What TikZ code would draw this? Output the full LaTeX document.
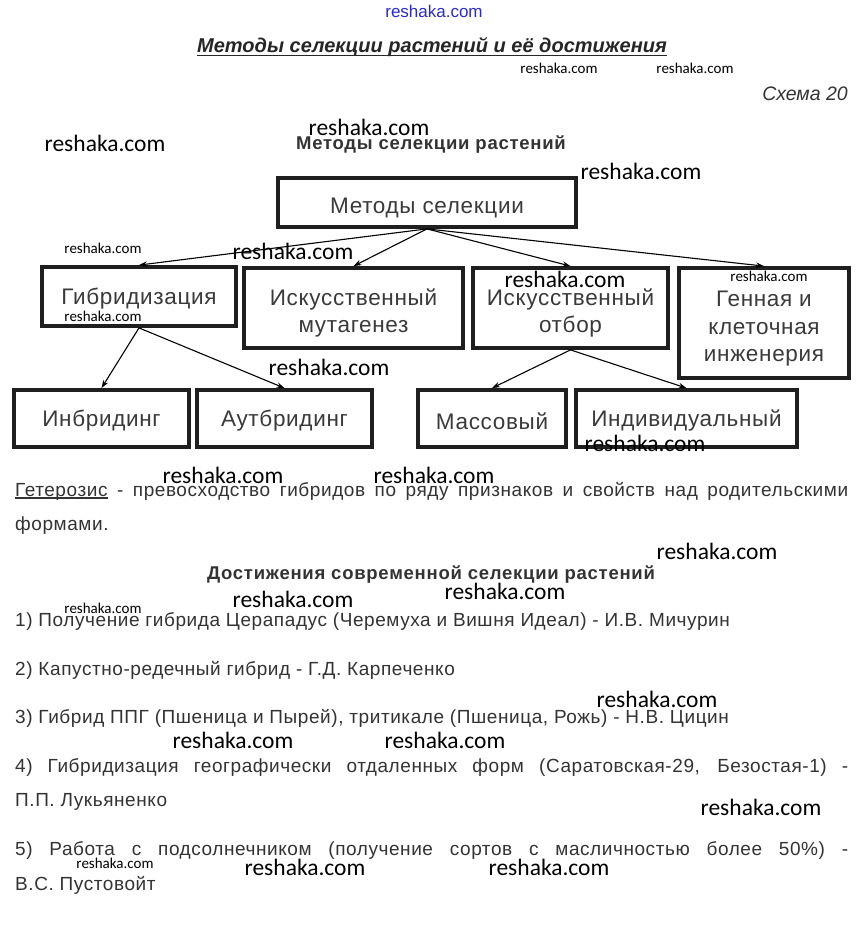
\documentclass[tikz,border=0pt]{standalone}
\usepackage{fontspec}
\setmainfont{Liberation Sans}
\newfontfamily\wmfont{Carlito}
\newfontfamily\spfont[LetterSpace=3]{Liberation Sans}
\newfontfamily\spbfont[LetterSpace=4,BoldFont={Liberation Sans Bold}]{Liberation Sans}
\usetikzlibrary{arrows.meta}
\definecolor{txt}{HTML}{333333}
\definecolor{boxtxt}{HTML}{3A3A3A}
\definecolor{wmblue}{HTML}{2A2AD8}
\newcommand\myul[1]{\setbox0\hbox{#1}\rlap{\rule[-2.5pt]{\wd0}{1.1pt}}\box0\relax}
\newcommand\tallstrut{\rule{0pt}{27pt}}
\tikzset{
  box/.style={draw=black!88, line width=3.8pt, inner sep=0pt, align=center, text=boxtxt,
    font=\spfont\fontsize{22.5}{27.5}\selectfont, execute at begin node={\rule{0pt}{21.5pt}}},
  arr/.style={draw=black, line width=1.1pt, -{Stealth[length=8pt,width=5.5pt]}},
  wmbig/.style={inner sep=0pt, font=\wmfont\fontsize{23.5}{26}\selectfont, text=black},
  wmsmall/.style={inner sep=0pt, font=\wmfont\fontsize{15}{17}\selectfont, text=black},
  body/.style={inner sep=0pt, anchor=base west, text=txt, font=\spfont\fontsize{19}{22}\selectfont},
  head/.style={inner sep=0pt, text=txt, font=\spbfont\bfseries\fontsize{18.5}{21}\selectfont}
}
\begin{document}
\begin{tikzpicture}[x=1pt,y=-1pt]
\useasboundingbox[fill=white] (0,0) rectangle (866,933);

% top
\node[inner sep=0pt, text=wmblue, font=\fontsize{17}{19}\selectfont] (wm0) at (434,11) {reshaka.com};
\node[inner sep=0pt, anchor=base, text=black!85, font=\bfseries\itshape\fontsize{20}{23}\selectfont] (title) at (432,53) {Методы селекции растений и её достижения};
\draw[line width=1.8pt, black!85] ([yshift=-2.5pt]title.base west) -- ([yshift=-2.5pt]title.base east);
\node[wmsmall] (wm1) at (559,68) {reshaka.com};
\node[wmsmall] (wm2) at (695,68) {reshaka.com};
\node[inner sep=0pt, anchor=east, text=txt, font=\itshape\fontsize{19.5}{22}\selectfont] (schema) at (848,94) {Схема 20};

\node[wmbig] (wm3) at (105,143) {reshaka.com};
\node[head] (h1) at (431,145) {Методы селекции растений};
\node[wmbig] (wm4) at (369,127) {reshaka.com};
\node[wmbig] (wm5) at (641,171) {reshaka.com};

% boxes
\node[box, minimum width=298pt, minimum height=49pt, text height=26pt, text depth=4.5pt] (ms) at (427,202.5) {Методы селекции};
\node[box, minimum width=194pt, minimum height=59pt] (hyb) at (139,296.5) {Гибридизация};
\node[box, minimum width=219pt, minimum height=80pt] (mut) at (353.5,308) {\tallstrut Искусственный\\мутагенез};
\node[box, minimum width=195pt, minimum height=80pt] (otb) at (570.5,308) {\tallstrut Искусственный\\отбор};
\node[box, minimum width=170pt, minimum height=110pt] (gen) at (764,323) {\tallstrut Генная и\\клеточная\\инженерия};
\node[box, minimum width=175pt, minimum height=57pt] (inb) at (101.5,418.5) {Инбридинг};
\node[box, minimum width=175pt, minimum height=57pt] (aut) at (284.5,418.5) {Аутбридинг};
\node[box, minimum width=148pt, minimum height=57pt] (mas) at (492,418.5) {Массовый};
\node[box, minimum width=221pt, minimum height=57pt] (ind) at (686.5,418.5) {Индивидуальный};

\draw[arr] (ms.south) -- (hyb.north);
\draw[arr] (ms.south) -- (mut.north);
\draw[arr] (ms.south) -- (otb.north);
\draw[arr] (ms.south) -- (gen.north);
\draw[arr] (hyb.south) -- (inb.north);
\draw[arr] (hyb.south) -- (aut.north);
\draw[arr] (otb.south) -- (mas.north);
\draw[arr] (otb.south) -- (ind.north);

\node[wmsmall] (wm6) at (103,248) {reshaka.com};
\node[wmbig] (wm7) at (293,251) {reshaka.com};
\node[wmsmall] (wm8) at (103,316) {reshaka.com};
\node[wmbig] (wm9) at (565,279) {reshaka.com};
\node[wmsmall] (wm10) at (769,276) {reshaka.com};
\node[wmbig] (wm11) at (329,367) {reshaka.com};
\node[wmbig] (wm12) at (645,443) {reshaka.com};

% heterosis
\node[wmbig] (wm13) at (223,475) {reshaka.com};
\node[wmbig] (wm14) at (434,475) {reshaka.com};
\node[body] (t1) at (15,496) {\makebox[833pt][s]{\myul{Гетерозис} - превосходство гибридов по ряду признаков и свойств над родительскими}};
\node[body] (t2) at (15,530) {формами.};

\node[wmbig] (wm15) at (717,551) {reshaka.com};
\node[head] (h2) at (431,575) {Достижения современной селекции растений};
\node[wmbig] (wm16) at (505,591) {reshaka.com};
\node[wmbig] (wm17) at (293,599) {reshaka.com};
\node[wmsmall] (wm18) at (103,608) {reshaka.com};

\node[body] (a1) at (15,626) {1) Получение гибрида Церападус (Черемуха и Вишня Идеал) - И.В. Мичурин};
\node[body] (a2) at (15,675) {2) Капустно-редечный гибрид - Г.Д. Карпеченко};
\node[wmbig] (wm19) at (657,699) {reshaka.com};
\node[body] (a3) at (15,723) {3) Гибрид ППГ (Пшеница и Пырей), тритикале (Пшеница, Рожь) - Н.В. Цицин};
\node[wmbig] (wm20) at (233,740) {reshaka.com};
\node[wmbig] (wm21) at (445,740) {reshaka.com};
\node[body] (a4) at (15,772) {\makebox[833pt][s]{4) Гибридизация географически отдаленных форм (Саратовская-29, Безостая-1) -}};
\node[body] (a4b) at (15,806) {П.П. Лукьяненко};
\node[wmbig] (wm22) at (761,807) {reshaka.com};
\node[body] (a5) at (15,855) {\makebox[833pt][s]{5) Работа с подсолнечником (получение сортов с масличностью более 50\%) -}};
\node[wmsmall] (wm23) at (115,863) {reshaka.com};
\node[wmbig] (wm24) at (305,867) {reshaka.com};
\node[wmbig] (wm25) at (549,867) {reshaka.com};
\node[body] (a5b) at (15,890) {В.С. Пустовойт};
\end{tikzpicture}
\end{document}
